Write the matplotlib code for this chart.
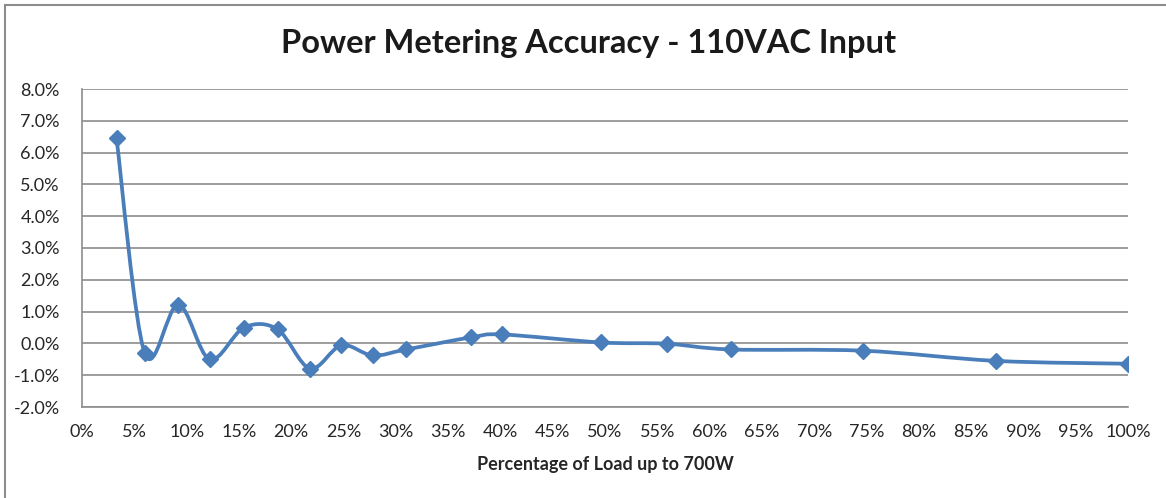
import numpy as np
from matplotlib import pyplot as plt
from matplotlib.path import Path
from matplotlib.patches import PathPatch, Rectangle
from matplotlib.ticker import MultipleLocator, FuncFormatter

# load (% of 700W) and metering error (%)
load_pct = [3.3, 6.0, 9.2, 12.2, 15.5, 18.7, 21.8, 24.8, 27.8, 31.0,
            37.2, 40.2, 49.6, 55.9, 62.0, 74.7, 87.4, 100.0]
error_pct = [6.45, -0.31, 1.22, -0.50, 0.50, 0.44, -0.79, -0.06, -0.38, -0.19,
             0.19, 0.28, 0.03, -0.01, -0.19, -0.23, -0.55, -0.64]

title = 'Power Metering Accuracy - 110VAC Input'
xlabel = 'Percentage of Load up to 700W'

blue = '#4A7EBB'
grid_grey = '#8C8C8C'
text_col = '#262626'

plt.rcParams['font.family'] = ['Lato', 'DejaVu Sans']


def smooth_path(xs, ys):
    # excel-like smoothed line: catmull-rom segments as cubic beziers
    pts = np.column_stack([xs, ys])
    ext = np.vstack([pts[0], pts, pts[-1]])
    verts = [pts[0]]
    codes = [Path.MOVETO]
    for i in range(len(pts) - 1):
        p0, p1, p2, p3 = ext[i], ext[i + 1], ext[i + 2], ext[i + 3]
        verts += [p1 + (p2 - p0) / 6, p2 - (p3 - p1) / 6, p2]
        codes += [Path.CURVE4] * 3
    return Path(verts, codes)


def main():
    fig = plt.figure(figsize=(11.66, 4.98), dpi=100)
    fig.patches.append(Rectangle((5 / 1166, -0.1), 1.2, 1.1 - 5 / 498,
                                 transform=fig.transFigure, fill=False,
                                 edgecolor='#8C8C8C', linewidth=1.5))

    ax = fig.add_axes([82 / 1166, 1 - 407 / 498, (1128 - 82) / 1166, (407 - 89) / 498])

    ax.add_patch(PathPatch(smooth_path(load_pct, error_pct), fill=False,
                           edgecolor=blue, linewidth=2.7, capstyle='round',
                           joinstyle='round', zorder=3))
    ax.plot(load_pct, error_pct, linestyle='none', marker='D', markersize=8.5,
            color=blue, zorder=4)

    ax.set_xlim(0, 100)
    ax.set_ylim(-2, 8)
    ax.xaxis.set_major_locator(MultipleLocator(5))
    ax.yaxis.set_major_locator(MultipleLocator(1))
    ax.xaxis.set_major_formatter(FuncFormatter(lambda v, p: f'{v:.0f}%'))
    ax.yaxis.set_major_formatter(FuncFormatter(lambda v, p: f'{v:.1f}%'))
    ax.tick_params(length=0, labelsize=13, colors=text_col, pad=12)
    ax.tick_params(axis='y', pad=16)

    ax.grid(axis='y', color=grid_grey, linewidth=1.2)
    ax.set_axisbelow(True)
    for side in ['top', 'right']:
        ax.spines[side].set_visible(False)
    for side in ['left', 'bottom']:
        ax.spines[side].set_color(grid_grey)
        ax.spines[side].set_linewidth(1.2)

    ax.set_xlabel(xlabel, fontsize=13, fontweight='bold', color=text_col, labelpad=12)
    fig.text(0.505, 0.912, title, ha='center', va='center', fontsize=23.5,
             fontweight='bold', color='#1A1A1A')

    fig.savefig('out.png', dpi=100)


if __name__ == '__main__':
    main()
